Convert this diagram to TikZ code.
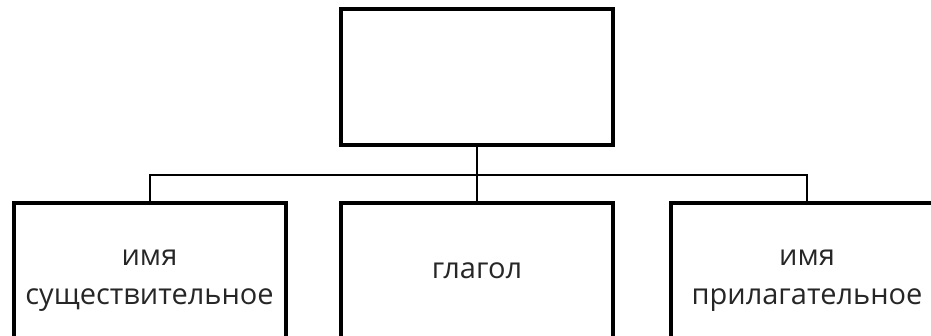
\documentclass[tikz,border=0pt]{standalone}
\usepackage{fontspec}
\setmainfont{Open Sans}
\usepackage{tikz}
\usetikzlibrary{positioning}
\newcommand{\posname}[2]{\raisebox{-12pt}[0pt][0pt]{\begin{tabular}{@{}c@{}}#1\\#2\end{tabular}}}

\begin{document}
\begin{tikzpicture}[
    x=1pt, y=-1pt,
    box/.style={rectangle, draw, line width=4pt, minimum width=272pt,
                minimum height=136pt, inner sep=0pt, align=center,
                text=black!85, font=\fontsize{29}{39}\selectfont},
    conn/.style={line width=2pt}
]
\useasboundingbox (0,0) rectangle (931,336);
\clip (0,0) rectangle (931,336);

% Top box
\node[box] (head) at (477,77) {};

% Parts of speech
\node[box] (noun) at (149.5,271) {\posname{имя}{существительное}};
\node[box] (verb) at (477,271) {глагол};
\node[box] (adj) at (807,271) {\posname{имя}{прилагательное}};

% Connectors
\coordinate (bus) at (477,175);
\draw[conn] (head.south) -- (verb.north);
\draw[conn] (noun.north) |- (bus) -| (adj.north);

\end{tikzpicture}
\end{document}
